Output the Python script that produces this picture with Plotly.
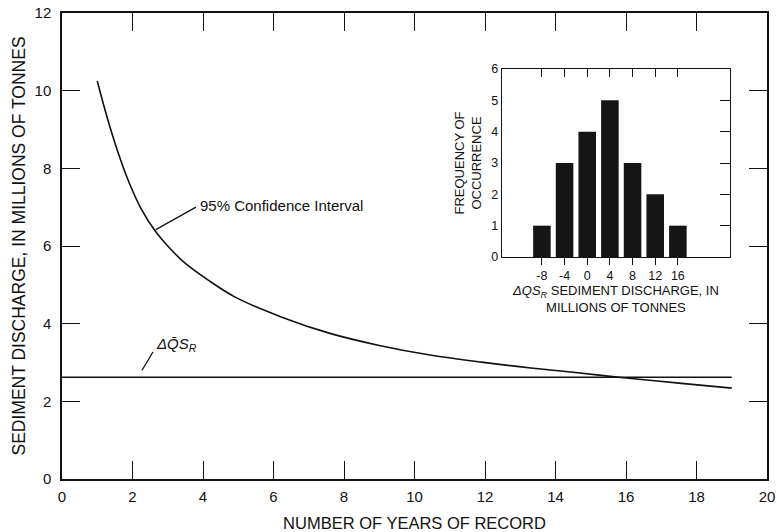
import plotly.graph_objects as go

# ---- data ----
years = [1, 1.3, 1.6, 1.9, 2.25, 2.65, 3, 3.5, 4.15, 4.9, 6.2, 7.6, 9, 10.4, 11.9, 13.3, 14.5, 16, 17.5, 19]
ci95 = [10.25, 9.25, 8.38, 7.64, 6.95, 6.38, 6.0, 5.55, 5.12, 4.69, 4.18, 3.75, 3.44, 3.2, 3.01, 2.86, 2.75, 2.6, 2.47, 2.34]
mean_years = [0, 19]
mean_dqs = [2.62, 2.62]

bins = [-8, -4, 0, 4, 8, 12, 16]
bin_labels = ["-8", "-4", "0", "4", "8", "12", "16"]
freq = [1, 3, 4, 5, 3, 2, 1]

x_ticks = [0, 2, 4, 6, 8, 10, 12, 14, 16, 18, 20]
y_ticks = [0, 2, 4, 6, 8, 10, 12]
inset_y_ticks = [0, 1, 2, 3, 4, 5, 6]

FONT = "Liberation Sans, Arial, sans-serif"
INK = "#111111"

fig = go.Figure()

fig.add_trace(go.Scatter(x=years, y=ci95, mode="lines", line=dict(color=INK, width=1.6, shape="spline", smoothing=1.0),
                         showlegend=False, hoverinfo="skip"))
fig.add_trace(go.Scatter(x=mean_years, y=mean_dqs, mode="lines", line=dict(color=INK, width=1.6),
                         showlegend=False, hoverinfo="skip"))

fig.add_trace(go.Bar(x=bins, y=freq, width=3.1, marker=dict(color="#151515", line=dict(width=0)),
                     xaxis="x2", yaxis="y2", showlegend=False, hoverinfo="skip"))
# invisible trace for the mirrored inset axes
fig.add_trace(go.Scatter(x=bins, y=freq, mode="markers", marker=dict(opacity=0), xaxis="x3", yaxis="y3",
                         showlegend=False, hoverinfo="skip"))

axis_common = dict(showgrid=False, zeroline=False, showline=True, linecolor=INK, linewidth=1.5,
                   tickcolor=INK, tickfont=dict(family=FONT, size=15, color=INK), automargin=False,
                   ticklabeloverflow="allow")

fig.update_layout(
    width=777, height=532,
    margin=dict(l=62, r=10, t=13, b=53),
    paper_bgcolor="white", plot_bgcolor="white",
    font=dict(family=FONT, color=INK),
    xaxis=dict(**axis_common, range=[0, 20], tickvals=x_ticks, ticks="inside", ticklen=18, tickwidth=1.3,
               mirror="ticks", ticklabelstandoff=3,
               title=dict(text="NUMBER OF YEARS OF RECORD", font=dict(family=FONT, size=16.5, color=INK), standoff=16)),
    yaxis=dict(**axis_common, range=[0, 12], tickvals=y_ticks, ticks="inside", ticklen=18, tickwidth=1.3,
               mirror="ticks", ticklabelstandoff=6,
               title=dict(text="SEDIMENT DISCHARGE, IN MILLIONS OF TONNES", font=dict(family=FONT, size=17.5, color=INK), standoff=4)),
    xaxis2=dict(showgrid=False, zeroline=False, showline=True, linecolor=INK, linewidth=1.3, automargin=False,
                domain=[0.624, 0.9475], anchor="y2", range=[-15.06, 25.2], tickvals=bins, ticktext=bin_labels,
                ticks="outside", ticklen=7, tickwidth=1.2, tickcolor=INK,
                tickfont=dict(family=FONT, size=12.5, color=INK),
                title=dict(text="<i>ΔQS<sub>R</sub></i> SEDIMENT DISCHARGE, IN<br>MILLIONS OF TONNES",
                           font=dict(family=FONT, size=13, color=INK), standoff=2)),
    yaxis2=dict(showgrid=False, zeroline=False, showline=True, linecolor=INK, linewidth=1.3, automargin=False,
                domain=[0.4764, 0.8798], anchor="x2", range=[0, 6], tickvals=inset_y_ticks,
                ticks="", tickfont=dict(family=FONT, size=12.5, color=INK),
                title=dict(text="FREQUENCY OF<br>OCCURRENCE", font=dict(family=FONT, size=13, color=INK), standoff=6)),
    xaxis3=dict(showgrid=False, zeroline=False, showline=True, linecolor=INK, linewidth=1.3, automargin=False,
                overlaying="x2", anchor="y2", side="top", matches="x2", tickvals=bins,
                ticks="inside", ticklen=8, tickwidth=1.2, tickcolor=INK, showticklabels=False),
    yaxis3=dict(showgrid=False, zeroline=False, showline=True, linecolor=INK, linewidth=1.3, automargin=False,
                overlaying="y2", anchor="x2", side="right", matches="y2", tickvals=inset_y_ticks,
                ticks="inside", ticklen=10, tickwidth=1.2, tickcolor=INK, showticklabels=False),
)

# annotation labels with leader lines
fig.add_shape(type="line", x0=2.66, y0=6.42, x1=3.8, y1=7.0, xref="x", yref="y", line=dict(color=INK, width=1.3))
fig.add_annotation(x=3.85, y=7.05, xref="x", yref="y", text="95% Confidence Interval", showarrow=False,
                   xanchor="left", yanchor="middle", font=dict(family=FONT, size=15, color=INK))
fig.add_shape(type="line", x0=2.27, y0=2.8, x1=2.58, y1=3.27, xref="x", yref="y", line=dict(color=INK, width=1.3))
fig.add_annotation(x=2.6, y=3.47, xref="x", yref="y", text="<i>ΔQ\u0304S<sub>R</sub></i>", showarrow=False,
                   xanchor="left", yanchor="middle", font=dict(family=FONT, size=15, color=INK))

# remove the default page margin so the 777x532 figure fills the window exactly
fig.write_html("out.html", config={"displayModeBar": False},
               post_script="document.body.style.margin='0';document.body.style.overflow='hidden';")
